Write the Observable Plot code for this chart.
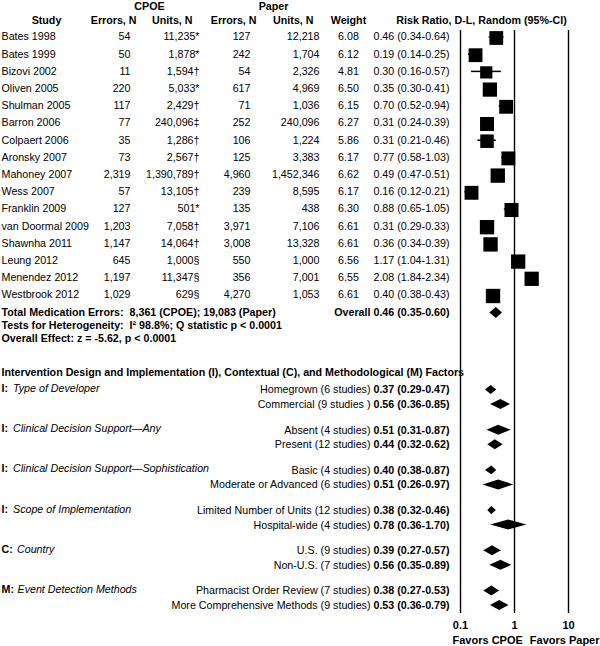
<!DOCTYPE html>
<html>
<head>
<meta charset="utf-8">
<script src="https://cdn.jsdelivr.net/npm/d3@7"></script>
<script src="https://cdn.jsdelivr.net/npm/@observablehq/plot@0.6"></script>
<style>
  html, body { margin: 0; padding: 0; background: #fff; }
  #chart svg { display: block; }
</style>
</head>
<body>
<div id="chart"></div>
<script>
// ---------- DATA ----------
const studies = ["Bates 1998","Bates 1999","Bizovi 2002","Oliven 2005","Shulman 2005","Barron 2006","Colpaert 2006","Aronsky 2007","Mahoney 2007","Wess 2007","Franklin 2009","van Doormal 2009","Shawnha 2011","Leung 2012","Menendez 2012","Westbrook 2012"];
const cpoeErrors = [54,50,11,220,117,77,35,73,2319,57,127,1203,1147,645,1197,1029];
const cpoeUnits = [11235,1878,1594,5033,2429,240096,1286,2567,1390789,13105,501,7058,14064,1000,11347,629];
const cpoeUnitsNote = ["*","*","†","*","†","‡","†","†","†","†","*","†","†","§","§","§"];
const paperErrors = [127,242,54,617,71,252,106,125,4960,239,135,3971,3008,550,356,4270];
const paperUnits = [12218,1704,2326,4969,1036,240096,1224,3383,1452346,8595,438,7106,13328,1000,7001,1053];
const weights = [6.08,6.12,4.81,6.50,6.15,6.27,5.86,6.17,6.62,6.17,6.30,6.61,6.61,6.56,6.55,6.61];
const rr   = [0.46,0.19,0.30,0.35,0.70,0.31,0.31,0.77,0.49,0.16,0.88,0.31,0.36,1.17,2.08,0.40];
const rrLo = [0.34,0.14,0.16,0.30,0.52,0.24,0.21,0.58,0.47,0.12,0.65,0.29,0.34,1.04,1.84,0.38];
const rrHi = [0.64,0.25,0.57,0.41,0.94,0.39,0.46,1.03,0.51,0.21,1.05,0.33,0.39,1.31,2.34,0.43];

const overall = {est: 0.46, lo: 0.35, hi: 0.60};

const sectionCodes = ["I","I","I","I","C","M"];
const sectionNames = ["Type of Developer","Clinical Decision Support\u2014Any","Clinical Decision Support\u2014Sophistication","Scope of Implementation","Country","Event Detection Methods"];

const subLabels = ["Homegrown (6 studies)","Commercial (9 studies )","Absent (4 studies)","Present (12 studies)","Basic (4 studies)","Moderate or Advanced (6 studies)","Limited Number of Units (12 studies)","Hospital-wide (4 studies)","U.S. (9 studies)","Non-U.S. (7 studies)","Pharmacist Order Review (7 studies)","More Comprehensive Methods (9 studies)"];
const subCI = ["0.37 (0.29-0.47)","0.56 (0.36-0.85)","0.51 (0.31-0.87)","0.44 (0.32-0.62)","0.40 (0.38-0.87)","0.51 (0.26-0.97)","0.38 (0.32-0.46)","0.78 (0.36-1.70)","0.39 (0.27-0.57)","0.56 (0.35-0.89)","0.38 (0.27-0.53)","0.53 (0.36-0.79)"];
// diamond extents as drawn
const subEst = [0.37,0.56,0.51,0.44,0.38,0.51,0.38,0.78,0.39,0.56,0.38,0.53];
const subLo  = [0.29,0.36,0.31,0.32,0.29,0.26,0.32,0.36,0.27,0.35,0.27,0.36];
const subHi  = [0.47,0.85,0.87,0.62,0.47,0.97,0.46,1.70,0.57,0.89,0.53,0.79];

const tickValues = [0.1, 1, 10];
const tickLabels = ["0.1","1","10"];

// ---------- LAYOUT ----------
const W = 600, H = 646;
const X0 = 460;                 // left edge of the forest frame
const cx = px => px - X0;       // column offset relative to frame left
const rowY = i => 36.5 + i * 17.2;
const secY = k => 388 + k * 40.2;
const FONT = 10.7;

const fmtN = d3.format(",");
const fmt2 = d3.format(".2f");

const rows = studies.map((s, i) => ({
  study: s,
  ce: fmtN(cpoeErrors[i]),
  cu: fmtN(cpoeUnits[i]) + cpoeUnitsNote[i],
  pe: fmtN(paperErrors[i]),
  pu: fmtN(paperUnits[i]),
  w: fmt2(weights[i]),
  weight: weights[i],
  rr: rr[i], lo: rrLo[i], hi: rrHi[i],
  ci: `${fmt2(rr[i])} (${fmt2(rrLo[i])}-${fmt2(rrHi[i])})`,
  y: rowY(i)
}));

const sections = sectionNames.map((n, k) => ({code: sectionCodes[k] + ":", name: n, codeKey: sectionCodes[k], y: secY(k)}));
const subs = subLabels.map((l, j) => {
  const k = Math.floor(j / 2);
  return {label: l, ci: subCI[j], est: subEst[j], lo: subLo[j], hi: subHi[j], y: secY(k) + (j % 2 ? 16 : 1.5)};
});

// diamonds
const diamonds = [];
const addDiamond = (id, est, lo, hi, y, h) => {
  diamonds.push({id, y: y - h, x1: est, x2: est});
  diamonds.push({id, y: y, x1: lo, x2: hi});
  diamonds.push({id, y: y + h, x1: est, x2: est});
};
const overallY = 312.5;
addDiamond("overall", overall.est, overall.lo, overall.hi, overallY, 5.5);
subs.forEach((s, j) => {
  const wpx = 54 * (Math.log10(s.hi) - Math.log10(s.lo));
  addDiamond("s" + j, s.est, s.lo, s.hi, s.y, Math.min(5, 3 + wpx / 8));
});

const T = (data, opts) => Plot.text(data, {frameAnchor: "left", fontSize: FONT, fill: "black", ...opts});

const headTop = [{t: "CPOE", px: 149}, {t: "Paper", px: 273}];
const headers = [
  {t: "Study", px: 46, a: "middle"},
  {t: "Errors, N", px: 136, a: "end"},
  {t: "Units, N", px: 192, a: "end"},
  {t: "Errors, N", px: 256, a: "end"},
  {t: "Units, N", px: 313, a: "end"},
  {t: "Weight", px: 348, a: "middle"},
  {t: "Risk Ratio, D-L, Random (95%-CI)", px: 481, a: "middle"}
];

const summaryLines = [
  "Total Medication Errors:  8,361 (CPOE); 19,083 (Paper)",
  "Tests for Heterogeneity:  I\u00B2 98.8%; Q statistic p < 0.0001",
  "Overall Effect: z = -5.62, p < 0.0001"
];
const summaryY = [overallY, overallY + 13, overallY + 26];

const headerMarks = headers.map(h =>
  T([h], {y: () => 20, text: d => d.t, dx: cx(h.px), textAnchor: h.a, fontWeight: "bold"})
);
const topHeaderMarks = headTop.map(h =>
  T([h], {y: () => 6.5, text: d => d.t, dx: cx(h.px), textAnchor: "middle", fontWeight: "bold"})
);

const chart = Plot.plot({
  width: W,
  height: H,
  marginLeft: X0,
  marginRight: W - 568,
  marginTop: 0,
  marginBottom: 0,
  x: {type: "log", domain: [0.1, 10], axis: null},
  y: {domain: [0, H], range: [0, H], axis: null},
  r: {type: "sqrt", domain: [0, 6.62], range: [0, 8.1]},
  style: {fontFamily: "'Liberation Sans', Arial, Helvetica, sans-serif", fontSize: "10.7px", color: "black", background: "white"},
  marks: [
    // reference lines
    Plot.ruleX(tickValues, {x: d => d, y1: rowY(0) - 6.5, y2: secY(5) + 24, stroke: "black", strokeWidth: 1.4}),
    // study CIs and squares
    Plot.ruleY(rows, {y: "y", x1: "lo", x2: "hi", stroke: "black", strokeWidth: 1.5}),
    Plot.dot(rows, {x: "rr", y: d => d.y + 1, r: "weight", symbol: "square", fill: "black", stroke: null}),
    // diamonds
    Plot.areaX(diamonds, {x1: "x1", x2: "x2", y: "y", z: "id", fill: "black", curve: "linear"}),
    // headers
    ...topHeaderMarks,
    ...headerMarks,
    // study table
    T(rows, {y: "y", text: "study", dx: cx(1), textAnchor: "start"}),
    T(rows, {y: "y", text: "ce", dx: cx(130), textAnchor: "end"}),
    T(rows, {y: "y", text: "cu", dx: cx(199), textAnchor: "end"}),
    T(rows, {y: "y", text: "pe", dx: cx(250), textAnchor: "end"}),
    T(rows, {y: "y", text: "pu", dx: cx(319), textAnchor: "end"}),
    T(rows, {y: "y", text: "w", dx: cx(348), textAnchor: "middle"}),
    T(rows, {y: "y", text: "ci", dx: cx(449), textAnchor: "end"}),
    // summary
    T(summaryLines, {y: (d, i) => summaryY[i], text: d => d, dx: cx(1), textAnchor: "start", fontWeight: "bold"}),
    T([overall], {y: () => overallY, text: d => `Overall ${fmt2(d.est)} (${fmt2(d.lo)}-${fmt2(d.hi)})`, dx: cx(449), textAnchor: "end", fontWeight: "bold"}),
    // moderators
    T(["Intervention Design and Implementation (I), Contextual (C), and Methodological (M) Factors"], {y: () => 372, text: d => d, dx: cx(1), textAnchor: "start", fontWeight: "bold"}),
    T(sections, {y: "y", text: "code", dx: cx(1), textAnchor: "start", fontWeight: "bold"}),
    T(sections.filter(d => d.codeKey === "I"), {y: "y", text: "name", dx: cx(12.5), textAnchor: "start", fontStyle: "italic"}),
    T(sections.filter(d => d.codeKey === "C"), {y: "y", text: "name", dx: cx(16.5), textAnchor: "start", fontStyle: "italic"}),
    T(sections.filter(d => d.codeKey === "M"), {y: "y", text: "name", dx: cx(17), textAnchor: "start", fontStyle: "italic"}),
    T(subs, {y: "y", text: "label", dx: cx(370), textAnchor: "end"}),
    T(subs, {y: "y", text: "ci", dx: cx(449), textAnchor: "end", fontWeight: "bold"}),
    // axis tick labels
    Plot.text(tickValues, {x: d => d, y: () => 624.5, text: (d, i) => tickLabels[i], fontWeight: "bold", fontSize: 11, fill: "black"}),
    T(["Favors CPOE"], {y: () => 639.5, text: d => d, dx: cx(452), textAnchor: "start", fontWeight: "bold", fontSize: 11}),
    T(["Favors Paper"], {y: () => 639.5, text: d => d, dx: cx(599), textAnchor: "end", fontWeight: "bold", fontSize: 11})
  ]
});
document.getElementById("chart").appendChild(chart);
</script>
</body>
</html>
